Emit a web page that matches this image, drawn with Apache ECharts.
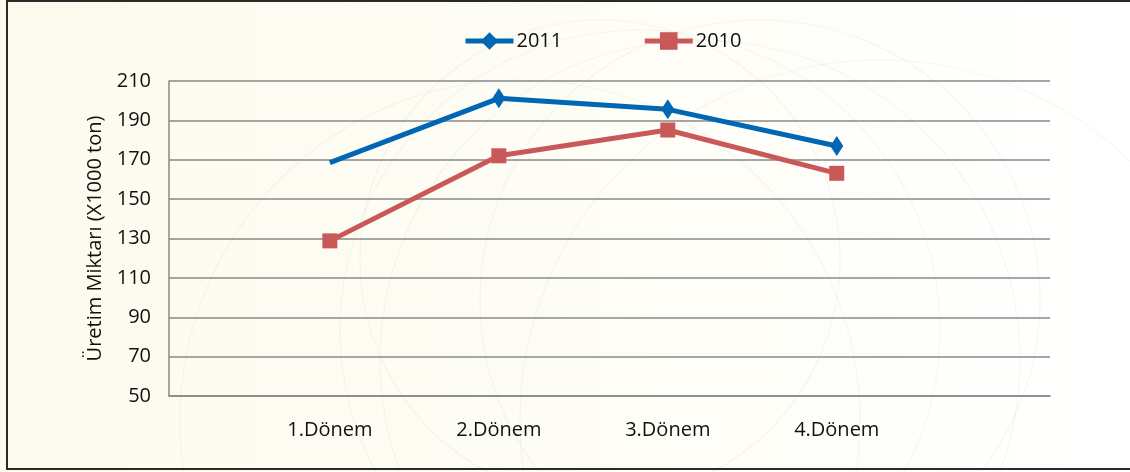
<!DOCTYPE html>
<html>
<head>
<meta charset="utf-8">
<script src="https://cdn.jsdelivr.net/npm/echarts@6/dist/echarts.min.js"></script>
<style>
  html, body { margin: 0; padding: 0; background: #fff; }
  #chart { width: 1130px; height: 472px; }
</style>
</head>
<body>
<div id="chart"></div>
<script>
// kategoriler (donemler)
var categories = ["1.Dönem", "2.Dönem", "3.Dönem", "4.Dönem"];
var yTicks = [50, 70, 90, 110, 130, 150, 170, 190, 210];
var values2011 = [168.5, 201.2, 195.6, 177.0];
var values2010 = [128.8, 172.0, 185.1, 163.1];

var chart = echarts.init(document.getElementById("chart"));
var font = "'Open Sans', 'Noto Sans', sans-serif";

function toPoints(vals, hideFirst) {
  var out = [];
  for (var i = 0; i < vals.length; i++) {
    var item = { value: [i + 1, vals[i]] };
    if (hideFirst && i === 0) item.symbol = "none";
    out.push(item);
  }
  return out;
}

// arka plandaki soluk desen
var deco = [];
var rings = [[640, 330, 300], [700, 360, 320], [760, 300, 280], [520, 420, 340], [880, 420, 360], [600, 260, 240]];
rings.forEach(function (r) {
  deco.push({
    type: "circle",
    shape: { cx: r[0], cy: r[1], r: r[2] },
    style: { fill: "none", stroke: "rgba(0,0,0,0.04)", lineWidth: 1.2 },
    silent: true, z: -10
  });
});
deco.push({
  type: "rect",
  shape: { x: 7, y: 1, width: 1126, height: 468 },
  style: { fill: "none", stroke: "#2a2a2a", lineWidth: 2 },
  silent: true
});

chart.setOption({
  backgroundColor: {
    type: "linear", x: 0, y: 0, x2: 1, y2: 0,
    colorStops: [
      { offset: 0, color: "#fdfbee" },
      { offset: 0.55, color: "#fefdf6" },
      { offset: 1, color: "#ffffff" }
    ]
  },
  textStyle: { fontFamily: font },
  graphic: deco,
  legend: {
    left: 458,
    top: 26,
    itemWidth: 48,
    itemHeight: 22,
    itemGap: 80,
    lineStyle: { width: 5 },
    textStyle: { fontSize: 20, color: "#111", fontFamily: font, padding: [0, 0, 0, -2] },
    data: ["2011", "2010"]
  },
  grid: { left: 169, right: 80, top: 81, bottom: 76 },
  xAxis: {
    type: "value",
    min: 0.048,
    max: 5.262,
    splitLine: { show: false },
    axisTick: { show: false },
    axisLine: { show: true, lineStyle: { color: "#888", width: 1.5 } },
    axisLabel: {
      customValues: [1, 2, 3, 4],
      fontSize: 20,
      color: "#111",
      margin: 24,
      formatter: function (v) { return categories[Math.round(v) - 1] || ""; }
    }
  },
  yAxis: {
    type: "value",
    min: yTicks[0],
    max: yTicks[yTicks.length - 1],
    interval: 20,
    name: "Üretim Miktarı (X1000 ton)",
    nameLocation: "middle",
    nameGap: 61,
    nameTextStyle: { fontSize: 20, color: "#111", fontFamily: font },
    axisLine: { show: true, lineStyle: { color: "#888", width: 1.5 } },
    axisTick: { show: false },
    splitLine: { lineStyle: { color: "#888", width: 1.5 } },
    axisLabel: { fontSize: 20, color: "#111", margin: 18 }
  },
  series: [
    {
      name: "2011",
      type: "line",
      data: toPoints(values2011, true),
      symbol: "diamond",
      symbolSize: [13, 20],
      itemStyle: { color: "#0166b3" },
      lineStyle: { width: 5, color: "#0166b3" },
      z: 3
    },
    {
      name: "2010",
      type: "line",
      data: toPoints(values2010, false),
      symbol: "rect",
      symbolSize: 15,
      itemStyle: { color: "#c95859" },
      lineStyle: { width: 5, color: "#c95859" },
      z: 2
    }
  ]
});
</script>
</body>
</html>
